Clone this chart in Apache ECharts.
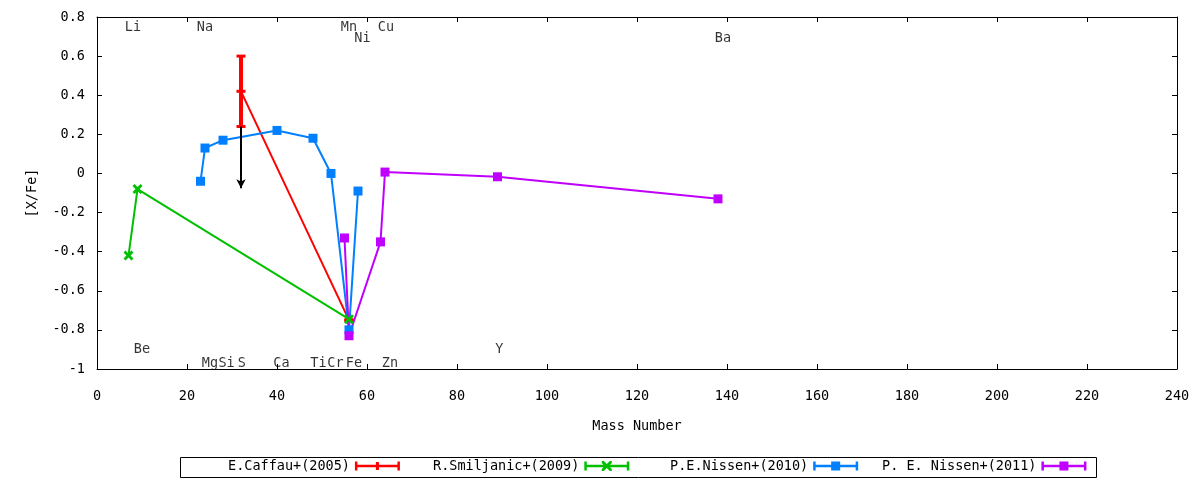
<!DOCTYPE html>
<html>
<head>
<meta charset="utf-8">
<script src="https://cdn.jsdelivr.net/npm/echarts@6/dist/echarts.min.js"></script>
<style>
html,body{margin:0;padding:0;background:#fff;}
#chart{width:1200px;height:480px;}
</style>
</head>
<body>
<div id="chart"></div>
<script>
// ---- data ----
var caffauX = [32, 56];
var caffauY = [0.42, -0.75];
var caffauLow = [0.24, -0.75];
var caffauHigh = [0.60, -0.75];
var caffauLimitX = 32, caffauLimitFrom = 0.24, caffauLimitTo = -0.076;

var smiljanicX = [7, 9, 56];
var smiljanicY = [-0.42, -0.08, -0.745];

var nissen2010X = [23, 24, 28, 40, 48, 52, 56, 58];
var nissen2010Y = [-0.04, 0.13, 0.17, 0.22, 0.18, 0.0, -0.80, -0.09];

var nissen2011X = [55, 56, 63, 64, 89, 138];
var nissen2011Y = [-0.33, -0.83, -0.35, 0.007, -0.017, -0.13];

var elementNames = ['Li','Na','Mn','Ni','Cu','Ba','Be','Mg','Si','S','Ca','Ti','Cr','Fe','Zn','Y'];
var elementLabelX = [8, 24, 56, 59, 64.2, 139.1, 10, 25.1, 28.8, 32.2, 41, 49.2, 53, 57.1, 65.1, 89.4];
var elementLabelY = [0.745, 0.745, 0.745, 0.69, 0.745, 0.69, -0.9, -0.97, -0.97, -0.97, -0.97, -0.97, -0.97, -0.97, -0.97, -0.9];

var seriesNames = ['E.Caffau+(2005)', 'R.Smiljanic+(2009)', 'P.E.Nissen+(2010)', 'P. E. Nissen+(2011)'];
var xTicks = {min: 0, max: 240, interval: 20};
var yTicks = {min: -1, max: 0.8, interval: 0.2};

// ---- helpers ----
function zip(xs, ys) { return xs.map(function (x, i) { return [x, ys[i]]; }); }
var FONT = 'DejaVu Sans Mono';
var RED = '#ff0000', GREEN = '#00c000', BLUE = '#0080ff', PURPLE = '#c000ff';
var xSym = 'path://M0,2 L2,0 L5,3 L8,0 L10,2 L7,5 L10,8 L8,10 L5,7 L2,10 L0,8 L3,5 Z';
var capsLine = 'M0,1.5h2.5v9h-2.5z M42.5,1.5h2.5v9h-2.5z M0,4.75h45v2.5h-45z ';
var legendIcons = [
  'path://' + capsLine + 'M21,2h3v8h-3z M0,0h0.01v12h-0.01z',
  'path://' + capsLine + 'M17.5,1 L19.5,1 L22.5,4 L25.5,1 L27.5,1 L27.5,3 L24.5,6 L27.5,9 L27.5,11 L25.5,11 L22.5,8 L19.5,11 L17.5,11 L17.5,9 L20.5,6 L17.5,3 Z M0,0h0.01v12h-0.01z',
  'path://' + capsLine + 'M18,1.5h9v9h-9z M0,0h0.01v12h-0.01z',
  'path://' + capsLine + 'M18,1.5h9v9h-9z M0,0h0.01v12h-0.01z'
];
var legendLefts = [228, 433, 670, 882];

var axisCommon = {
  axisLine: {show: true, onZero: false, lineStyle: {color: '#000', width: 1}},
  axisTick: {show: true, inside: true, length: 5, lineStyle: {color: '#000'}},
  splitLine: {show: false}
};

var chart = echarts.init(document.getElementById('chart'), null, {renderer: 'canvas'});
var option = {
  animation: false,
  backgroundColor: '#fff',
  textStyle: {fontFamily: FONT},
  grid: {left: 97, right: 23, top: 17, bottom: 111, containLabel: false},
  xAxis: [
    Object.assign({
      type: 'value', position: 'bottom', min: xTicks.min, max: xTicks.max, interval: xTicks.interval,
      name: 'Mass Number', nameLocation: 'middle', nameGap: 50,
      nameTextStyle: {fontFamily: FONT, fontSize: 13.5, color: '#000'},
      axisLabel: {fontFamily: FONT, fontSize: 13.5, color: '#000', margin: 20}
    }, axisCommon),
    Object.assign({
      type: 'value', position: 'top', min: xTicks.min, max: xTicks.max, interval: xTicks.interval,
      axisLabel: {show: false}
    }, axisCommon)
  ],
  yAxis: [
    Object.assign({
      type: 'value', position: 'left', min: yTicks.min, max: yTicks.max, interval: yTicks.interval,
      name: '[X/Fe]', nameLocation: 'middle', nameGap: 58, nameRotate: 90,
      nameTextStyle: {fontFamily: FONT, fontSize: 13.5, color: '#000'},
      axisLabel: {fontFamily: FONT, fontSize: 13.5, color: '#000', margin: 12}
    }, axisCommon),
    Object.assign({
      type: 'value', position: 'right', min: yTicks.min, max: yTicks.max, interval: yTicks.interval,
      axisLabel: {show: false}
    }, axisCommon)
  ],
  legend: seriesNames.map(function (n, i) {
    return {
      data: [{name: n, icon: legendIcons[i]}],
      left: legendLefts[i], top: 459, padding: 0,
      align: 'right', itemWidth: 45, itemHeight: 12, itemGap: 0,
      selectedMode: false,
      textStyle: {fontFamily: FONT, fontSize: 13.5, color: '#000'}
    };
  }),
  graphic: [{
    type: 'rect', left: 178, top: 455, z: 100, silent: true,
    shape: {width: 916, height: 20},
    style: {fill: 'none', stroke: '#000', lineWidth: 1}
  }],
  series: [
    {
      name: 'caffauErr', type: 'custom', xAxisIndex: 0, yAxisIndex: 0, z: 2,
      data: caffauX.map(function (x, i) { return [x, caffauLow[i], caffauHigh[i]]; }),
      renderItem: function (params, api) {
        var x = api.value(0), lo = api.value(1), hi = api.value(2);
        var pLo = api.coord([x, lo]), pHi = api.coord([x, hi]);
        var w = 4.5;
        var st = {stroke: RED, lineWidth: 3};
        return {type: 'group', children: [
          {type: 'line', shape: {x1: pLo[0], y1: pLo[1], x2: pHi[0], y2: pHi[1]}, style: {stroke: RED, lineWidth: 4}},
          {type: 'line', shape: {x1: pLo[0] - w, y1: pLo[1], x2: pLo[0] + w, y2: pLo[1]}, style: st},
          {type: 'line', shape: {x1: pHi[0] - w, y1: pHi[1], x2: pHi[0] + w, y2: pHi[1]}, style: st}
        ]};
      },
      markLine: {
        silent: true, symbol: ['none', 'arrow'], symbolSize: [7, 9],
        label: {show: false},
        lineStyle: {color: '#000', width: 2, type: 'solid'},
        data: [[{coord: [caffauLimitX, caffauLimitFrom]}, {coord: [caffauLimitX, caffauLimitTo]}]]
      }
    },
    {
      name: seriesNames[0], type: 'line', z: 3,
      data: zip(caffauX, caffauY),
      symbol: 'rect', symbolSize: [9, 3],
      itemStyle: {color: RED}, lineStyle: {color: RED, width: 2}
    },
    {
      name: seriesNames[1], type: 'line', z: 3,
      data: zip(smiljanicX, smiljanicY),
      symbol: xSym, symbolSize: 10,
      itemStyle: {color: GREEN}, lineStyle: {color: GREEN, width: 2}
    },
    {
      name: seriesNames[2], type: 'line', z: 3,
      data: zip(nissen2010X, nissen2010Y),
      symbol: 'rect', symbolSize: 9,
      itemStyle: {color: BLUE}, lineStyle: {color: BLUE, width: 2}
    },
    {
      name: seriesNames[3], type: 'line', z: 3,
      data: zip(nissen2011X, nissen2011Y),
      symbol: 'rect', symbolSize: 9,
      itemStyle: {color: PURPLE}, lineStyle: {color: PURPLE, width: 2}
    },
    {
      name: 'elements', type: 'scatter', z: 4, silent: true,
      symbolSize: 0,
      data: elementLabelX.map(function (x, i) { return {value: [x, elementLabelY[i]], name: elementNames[i]}; }),
      label: {
        show: true, formatter: '{b}', position: [0, 0], align: 'center', verticalAlign: 'middle',
        fontFamily: FONT, fontSize: 13.5, color: '#000'
      }
    }
  ]
};
chart.setOption(option);
</script>
</body>
</html>
